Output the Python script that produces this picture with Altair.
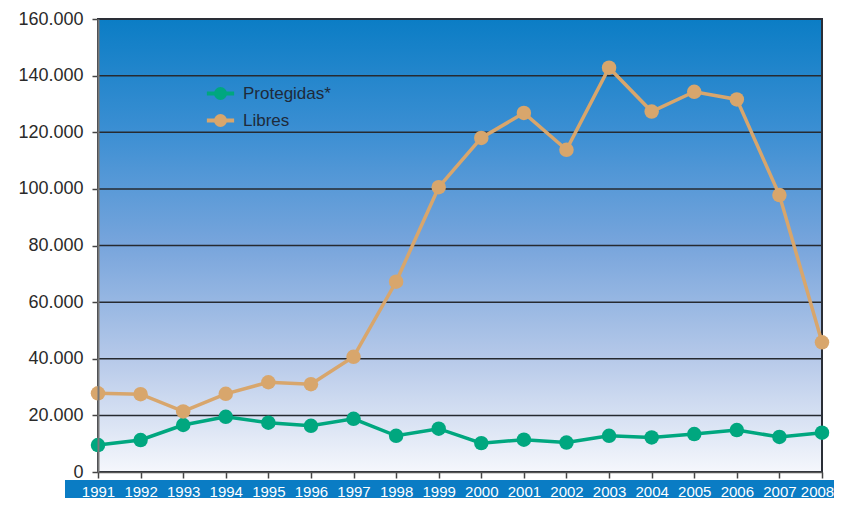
import altair as alt
import pandas as pd

years = [str(y) for y in range(1991, 2009)]
protegidas = [9500, 11300, 16600, 19500, 17400, 16300, 18800, 12800, 15300, 10200,
              11400, 10400, 12800, 12200, 13400, 14800, 12400, 13900]
libres = [27800, 27500, 21400, 27600, 31700, 31000, 40700, 67200, 100600, 118000,
          126800, 113800, 142800, 127300, 134300, 131600, 97800, 45800]
series_names = ["Protegidas*", "Libres"]
series_colors = ["#00a77f", "#d8a66c"]
y_ticks = [0, 20000, 40000, 60000, 80000, 100000, 120000, 140000, 160000]

W, H = 724, 453

rows = []
for i, y in enumerate(years):
    rows.append({"year": y, "serie": series_names[0], "v": protegidas[i]})
    rows.append({"year": y, "serie": series_names[1], "v": libres[i]})
df = pd.DataFrame(rows)

x_scale = alt.Scale(domain=years, paddingOuter=0, paddingInner=0, padding=0, align=0)
y_scale = alt.Scale(domain=[0, 160000], nice=False)

x_enc = alt.X("year:O", scale=x_scale,
              axis=alt.Axis(title=None, labelAngle=0, labelColor="white", labelFontSize=15,
                            labelFont="Liberation Sans", labelPadding=6, tickColor="#444",
                            tickSize=6, tickWidth=1.5, domainColor="#555", domainWidth=1.5,
                            labelBaseline="top", zindex=2,
                            labelOffset={"condition": {"test": "datum.value == '2008'", "value": -5},
                                         "value": 0}))
y_axis = alt.Axis(title=None, values=y_ticks,
                  labelExpr="replace(format(datum.value, ',d'), ',', '.')",
                  labelFontSize=18, labelFont="Liberation Sans", labelColor="#2a2a2a",
                  tickColor="#444", tickSize=6, tickWidth=1.5, labelPadding=9,
                  domainColor="#777", domainWidth=2, grid=False, zindex=2)
y_enc = alt.Y("v:Q", scale=y_scale, axis=y_axis)

# stroke-drawn legend glyph: a short line plus concentric rings forming a dot
sym_path = ("M-1.3,0 L1.3,0 "
            "M-0.43,0 A0.43,0.43 0 1,0 0.43,0 A0.43,0.43 0 1,0 -0.43,0 "
            "M-0.29,0 A0.29,0.29 0 1,0 0.29,0 A0.29,0.29 0 1,0 -0.29,0 "
            "M-0.15,0 A0.15,0.15 0 1,0 0.15,0 A0.15,0.15 0 1,0 -0.15,0")
color_scale = alt.Scale(domain=series_names, range=series_colors)
color_leg = alt.Color("serie:N", scale=color_scale,
                      legend=alt.Legend(title=None, orient="none", legendX=110, legendY=62,
                                        labelFontSize=17, labelFont="Liberation Sans",
                                        labelColor="#1e2a3a", symbolType=sym_path,
                                        symbolSize=440, symbolStrokeWidth=4,
                                        symbolOpacity=1, labelOffset=10))
color_noleg = alt.Color("serie:N", scale=color_scale, legend=None)

one = pd.DataFrame({"a": [0]})
bg = alt.Chart(one).mark_rect(
    color=alt.Gradient(gradient="linear", x1=0, x2=0, y1=0, y2=1,
                       stops=[alt.GradientStop(color="#0b7dc5", offset=0),
                              alt.GradientStop(color="#3c8fd3", offset=0.25),
                              alt.GradientStop(color="#78a5dc", offset=0.5),
                              alt.GradientStop(color="#b6c9e9", offset=0.75),
                              alt.GradientStop(color="#f5f7fc", offset=1)])
).encode(x=alt.value(0), x2=alt.value(W), y=alt.value(0), y2=alt.value(H))

band = alt.Chart(one).mark_rect(color="#0a7cc4", clip=False).encode(
    x=alt.value(-33), x2=alt.value(744), y=alt.value(H + 8), y2=alt.value(H + 27))

grid = alt.Chart(pd.DataFrame({"t": y_ticks[1:-1]})).mark_rule(
    color="#262a30", strokeWidth=1.5).encode(
    y=alt.Y("t:Q", scale=y_scale, axis=y_axis), x=alt.value(0), x2=alt.value(W))

border = alt.Chart(one).mark_rect(
    fill=None, stroke="#2a2e36", strokeWidth=2, clip=False).encode(
    x=alt.value(0), x2=alt.value(W), y=alt.value(0), y2=alt.value(H))

lines = alt.Chart(df).mark_line(strokeWidth=3.5).encode(x=x_enc, y=y_enc, color=color_leg)
pts = alt.Chart(df).mark_circle(size=210, opacity=1).encode(x=x_enc, y=y_enc, color=color_noleg)

chart = alt.layer(bg, band, grid, border, lines, pts).properties(
    width=W, height=H,
    padding={"left": 90, "top": 11, "right": 12, "bottom": 26},
    autosize=alt.AutoSizeParams(type="none"),
    background="white"
).configure_view(stroke=None).configure_legend(rowPadding=0)

chart.save("out.html", embed_options={"renderer": "svg", "actions": False})
